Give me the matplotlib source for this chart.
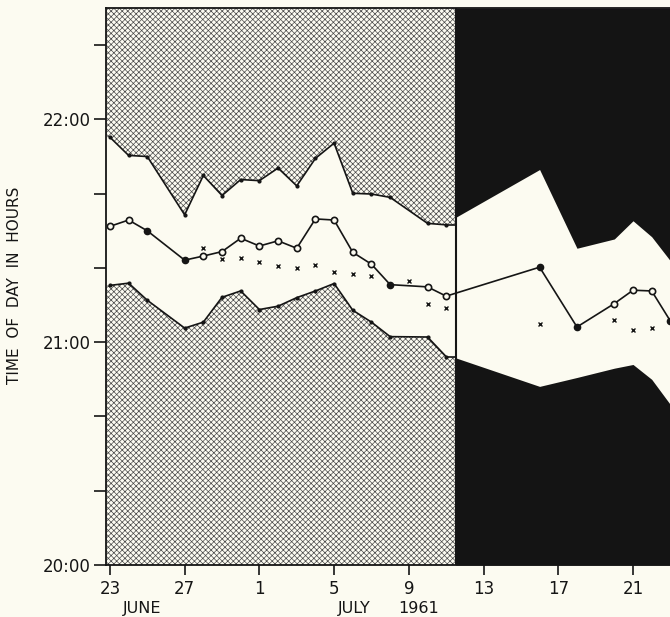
import numpy as np
import matplotlib.pyplot as plt

# Days counted from 23 June 1961 (0 = 23 June, 8 = 1 July).
# Times are minutes after 20:00.
split_day = 18.5          # hatched part ends / black part starts

hatch_days = [0, 1, 2, 4, 5, 6, 7, 8, 9, 10, 11, 12, 13, 14, 15, 17, 18]
hatch_upper = [115.2, 110.3, 110.0, 94.3, 104.9, 99.5, 103.8, 103.5, 106.9,
               102.1, 109.5, 113.6, 100.1, 99.9, 99.0, 92.0, 91.6]
hatch_lower = [75.3, 75.9, 71.3, 63.8, 65.4, 72.1, 73.8, 68.8, 69.7,
               72.0, 73.8, 75.8, 68.6, 65.4, 61.5, 61.4, 56.1]

dark_days = [18.5, 23, 25, 27, 28, 29, 30]
dark_upper = [93.6, 106.5, 85.3, 87.8, 92.7, 88.4, 81.9]
dark_lower = [55.8, 48.1, 50.5, 53.0, 54.0, 50.0, 43.2]

mid_days = [0, 1, 2, 4, 5, 6, 7, 8, 9, 10, 11, 12, 13, 14, 15, 17, 18,
            23, 25, 27, 28, 29, 30]
mid_min = [91.2, 92.9, 90.0, 82.1, 83.2, 84.4, 88.0, 85.9, 87.3, 85.3, 93.2,
           92.9, 84.2, 81.0, 75.5, 74.9, 72.4, 80.2, 64.1, 70.4, 74.0, 73.8, 65.7]
mid_filled = [0, 0, 1, 1, 0, 0, 0, 0, 0, 0, 0, 0, 0, 0, 1, 0, 0,
              1, 1, 0, 0, 0, 1]

cross_days = [5, 6, 7, 8, 9, 10, 11, 12, 13, 14, 16, 17, 18, 23, 27, 28, 29]
cross_min = [85.3, 82.4, 82.8, 81.7, 80.5, 80.1, 80.7, 79.0, 78.3, 77.8,
             76.5, 70.2, 69.2, 64.9, 66.1, 63.2, 63.9]

tick_days = [0, 4, 8, 12, 16, 20, 24, 28]
tick_labels = ["23", "27", "1", "5", "9", "13", "17", "21"]

bg = "#fcfbf1"
ink = "#151515"
plt.rcParams["hatch.linewidth"] = 0.5

fig = plt.figure(figsize=(6.7, 6.17), dpi=100, facecolor=bg)
ax = fig.add_axes([106 / 670, 52 / 617, 564 / 670, 557 / 617])
ax.set_facecolor(bg)
x0, x1 = -0.21, 29.98
y0, y1 = 0, 150
ax.set_xlim(x0, x1)
ax.set_ylim(y0, y1)

# hatched part (extended flat to the left spine and to the split)
hx = np.concatenate([[x0], hatch_days, [split_day]])
hu = np.concatenate([[hatch_upper[0]], hatch_upper, [hatch_upper[-1]]])
hl = np.concatenate([[hatch_lower[0]], hatch_lower, [hatch_lower[-1]]])
for lo, hi in [(hu, np.full_like(hu, y1)), (np.zeros_like(hl), hl)]:
    ax.fill_between(hx, lo, hi, facecolor=bg, edgecolor="#4a4a4a",
                    hatch="xxxxxx", linewidth=0, zorder=1)
ax.plot(hatch_days, hatch_upper, color=ink, lw=1.2, marker="o", ms=2, zorder=3)
ax.plot(hatch_days, hatch_lower, color=ink, lw=1.2, marker="o", ms=2, zorder=3)
ax.plot(hx[-2:], hu[-2:], color=ink, lw=1.2, zorder=3)
ax.plot(hx[-2:], hl[-2:], color=ink, lw=1.2, zorder=3)

# black part
ax.fill_between(dark_days, dark_upper, y1, color="#141414", lw=0, zorder=1)
ax.fill_between(dark_days, y0, dark_lower, color="#141414", lw=0, zorder=1)
ax.axvline(split_day, color=ink, lw=1.5, zorder=2)

# mean line with open / filled circles
ax.plot(mid_days, mid_min, color=ink, lw=1.2, zorder=4)
filled = np.array(mid_filled, dtype=bool)
md = np.array(mid_days)
mm = np.array(mid_min)
ax.plot(md[~filled], mm[~filled], ls="none", marker="o", ms=4.5, mfc=bg,
        mec=ink, mew=1.2, zorder=5)
ax.plot(md[filled], mm[filled], ls="none", marker="o", ms=4.5, mfc=ink,
        mec=ink, zorder=5)
ax.plot(cross_days, cross_min, ls="none", marker="x", ms=2.8, mec=ink,
        mew=1.0, zorder=5)

# axes
for s in ["left", "bottom", "top"]:
    ax.spines[s].set_linewidth(1.3)
    ax.spines[s].set_color(ink)
ax.spines["right"].set_visible(False)
ax.set_xticks(tick_days)
ax.set_xticklabels(tick_labels)
ax.set_yticks(np.arange(0, 151, 20))
ax.set_yticklabels(["20:00" if v == 0 else "21:00" if v == 60 else
                    "22:00" if v == 120 else "" for v in range(0, 151, 20)])
ax.tick_params(axis="y", length=9, width=1.2, color=ink, labelsize=12,
               labelcolor=ink, pad=2)
ax.tick_params(axis="x", length=7, width=1.2, color=ink, labelsize=12,
               labelcolor=ink, pad=3.5)

for xpos, txt in [(1.7, "JUNE"), (13.1, "JULY"), (16.5, "1961")]:
    ax.text(xpos, -11.7, txt, ha="center", va="center", fontsize=11.5,
            color=ink, clip_on=False)
fig.text(15 / 670, 1 - 285 / 617, "TIME  OF  DAY  IN  HOURS", rotation=90,
         ha="center", va="center", fontsize=11, color=ink)

fig.savefig("out.png", dpi=100, facecolor=bg)
